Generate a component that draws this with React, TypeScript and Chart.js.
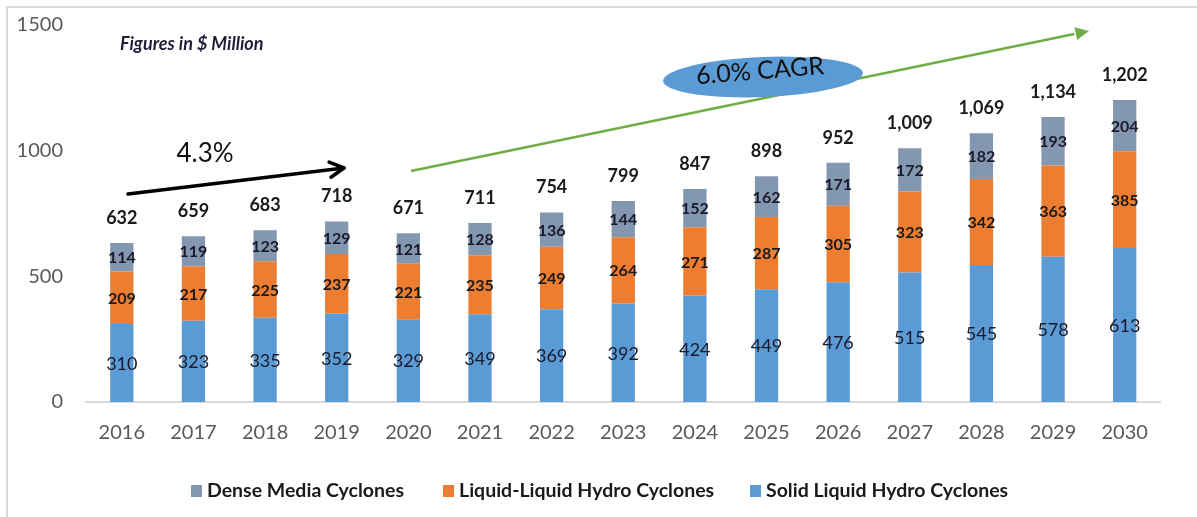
import React, { useEffect, useRef } from "react";
import { Chart, registerables } from "chart.js";

Chart.register(...registerables);

const years = ["2016", "2017", "2018", "2019", "2020", "2021", "2022", "2023", "2024", "2025", "2026", "2027", "2028", "2029", "2030"];
const solidLiquid = [310, 323, 335, 352, 329, 349, 369, 392, 424, 449, 476, 515, 545, 578, 613];
const liquidLiquid = [209, 217, 225, 237, 221, 235, 249, 264, 271, 287, 305, 323, 342, 363, 385];
const denseMedia = [114, 119, 123, 129, 121, 128, 136, 144, 152, 162, 171, 172, 182, 193, 204];
const totals = ["632", "659", "683", "718", "671", "711", "754", "799", "847", "898", "952", "1,009", "1,069", "1,134", "1,202"];
const yTicks = [0, 500, 1000, 1500];

const BLUE = "#5B9BD5";
const ORANGE = "#ED7D31";
const GRAY = "#8497B0";
const GREEN = "#70AD47";
const FONT = "Lato, 'Liberation Sans', sans-serif";

const overlayPlugin = {
  id: "overlay",
  beforeDraw(chart: any) {
    const ctx = chart.ctx;
    ctx.save();
    ctx.fillStyle = "#ffffff";
    ctx.fillRect(0, 0, chart.width, chart.height);
    ctx.strokeStyle = "#d9d9d9";
    ctx.lineWidth = 2;
    ctx.beginPath();
    ctx.moveTo(7, chart.height);
    ctx.lineTo(7, 7);
    ctx.lineTo(chart.width, 7);
    ctx.stroke();
    ctx.restore();
  },
  afterDatasetsDraw(chart: any) {
    const ctx = chart.ctx;
    ctx.save();
    // segment labels
    const styles = [
      { font: `18px ${FONT}`, color: "#1a1a2a" },
      { font: `bold 16px ${FONT}`, color: "#1a1a1a" },
      { font: `bold 16px ${FONT}`, color: "#1a1a2a" },
    ];
    chart.data.datasets.forEach((ds: any, di: number) => {
      const meta = chart.getDatasetMeta(di);
      meta.data.forEach((bar: any, i: number) => {
        const cy = (bar.y + bar.base) / 2;
        ctx.font = styles[di].font;
        ctx.fillStyle = styles[di].color;
        ctx.textAlign = "center";
        ctx.textBaseline = "middle";
        ctx.fillText(String(ds.data[i]), bar.x, cy + 1);
      });
    });
    // totals
    const topMeta = chart.getDatasetMeta(2);
    topMeta.data.forEach((bar: any, i: number) => {
      ctx.font = `bold 18px ${FONT}`;
      ctx.fillStyle = "#1a1a1a";
      ctx.textAlign = "center";
      ctx.textBaseline = "middle";
      ctx.fillText(totals[i], bar.x, bar.y - 25);
    });

    // Figures in $ Million
    ctx.font = `italic bold 18px ${FONT}`;
    ctx.fillStyle = "#1f1f3a";
    ctx.textAlign = "left";
    ctx.textBaseline = "middle";
    ctx.fillText("Figures in $ Million", 120, 44);

    // 4.3%
    ctx.font = `26px ${FONT}`;
    ctx.fillStyle = "#111111";
    ctx.textAlign = "center";
    ctx.fillText("4.3%", 205, 154);

    // black arrow
    const bx1 = 128, by1 = 194, bx2 = 344, by2 = 168;
    ctx.strokeStyle = "#000000";
    ctx.lineWidth = 3.5;
    ctx.lineCap = "round";
    ctx.lineJoin = "round";
    ctx.beginPath();
    ctx.moveTo(bx1, by1);
    ctx.lineTo(bx2, by2);
    ctx.stroke();
    const ang = Math.atan2(by2 - by1, bx2 - bx1);
    const hl = 16;
    ctx.beginPath();
    ctx.moveTo(bx2 - hl * Math.cos(ang - 0.5), by2 - hl * Math.sin(ang - 0.5));
    ctx.lineTo(bx2, by2);
    ctx.lineTo(bx2 - hl * Math.cos(ang + 0.5), by2 - hl * Math.sin(ang + 0.5));
    ctx.stroke();

    // green arrow
    const gx1 = 411, gy1 = 171, gx2 = 1089, gy2 = 31;
    const gang = Math.atan2(gy2 - gy1, gx2 - gx1);
    const ghl = 15;
    ctx.strokeStyle = GREEN;
    ctx.fillStyle = GREEN;
    ctx.lineWidth = 2.5;
    ctx.lineCap = "butt";
    ctx.beginPath();
    ctx.moveTo(gx1, gy1);
    ctx.lineTo(gx2 - ghl * Math.cos(gang), gy2 - ghl * Math.sin(gang));
    ctx.stroke();
    ctx.beginPath();
    ctx.moveTo(gx2, gy2);
    ctx.lineTo(gx2 - ghl * Math.cos(gang - 0.45), gy2 - ghl * Math.sin(gang - 0.45));
    ctx.lineTo(gx2 - ghl * Math.cos(gang + 0.45), gy2 - ghl * Math.sin(gang + 0.45));
    ctx.closePath();
    ctx.fill();

    // ellipse
    ctx.fillStyle = BLUE;
    ctx.beginPath();
    ctx.ellipse(763, 77, 100, 20, -0.04, 0, Math.PI * 2);
    ctx.fill();
    ctx.save();
    ctx.translate(760, 71);
    ctx.rotate(-0.08);
    ctx.font = `25px ${FONT}`;
    ctx.fillStyle = "#111111";
    ctx.textAlign = "center";
    ctx.textBaseline = "middle";
    ctx.fillText("6.0% CAGR", 0, 0);
    ctx.restore();

    // legend
    const items = [
      { label: "Dense Media Cyclones", color: GRAY, x: 191 },
      { label: "Liquid-Liquid Hydro Cyclones", color: ORANGE, x: 443 },
      { label: "Solid Liquid Hydro Cyclones", color: BLUE, x: 750 },
    ];
    items.forEach((it) => {
      ctx.fillStyle = it.color;
      ctx.fillRect(it.x, 485, 11, 12);
      ctx.font = `bold 19.5px ${FONT}`;
      ctx.fillStyle = "#1a1a1a";
      ctx.textAlign = "left";
      ctx.textBaseline = "middle";
      ctx.fillText(it.label, it.x + 16, 491);
    });
    ctx.restore();
  },
};

export default function App() {
  const ref = useRef<HTMLCanvasElement | null>(null);
  useEffect(() => {
    if (!ref.current) return;
    const chart = new Chart(ref.current, {
      type: "bar",
      data: {
        labels: years,
        datasets: [
          { label: "Solid Liquid Hydro Cyclones", data: solidLiquid, backgroundColor: BLUE },
          { label: "Liquid-Liquid Hydro Cyclones", data: liquidLiquid, backgroundColor: ORANGE },
          { label: "Dense Media Cyclones", data: denseMedia, backgroundColor: GRAY },
        ],
      },
      options: {
        animation: false,
        responsive: false,
        maintainAspectRatio: false,
        layout: { padding: { left: 0, right: 36.5, top: 25, bottom: 65 } },
        datasets: { bar: { categoryPercentage: 1, barPercentage: 0.325 } },
        plugins: {
          legend: { display: false },
          tooltip: { enabled: false },
          title: { display: false },
        },
        scales: {
          x: {
            stacked: true,
            grid: { display: false, drawTicks: false },
            border: { display: true, color: "#d9d9d9", width: 2 },
            ticks: { color: "#595959", font: { family: FONT, size: 20 }, padding: 19 },
            afterFit: (s: any) => { s.height = 50; s.paddingLeft = 0; s.paddingRight = 0; },
          },
          y: {
            stacked: true,
            min: 0,
            max: 1500,
            afterBuildTicks: (s: any) => { s.ticks = yTicks.map((v) => ({ value: v })); },
            grid: { display: false, drawTicks: false },
            border: { display: false },
            ticks: {
              color: "#595959",
              font: { family: FONT, size: 20 },
              padding: 23,
              callback: (v: any) => String(v),
            },
            afterFit: (s: any) => { s.width = 86; s.paddingTop = 0; s.paddingBottom = 0; },
          },
        },
      },
      plugins: [overlayPlugin],
    });
    return () => chart.destroy();
  }, []);
  return (
    <div style={{ position: "fixed", left: 0, top: 0, width: 1197, height: 517, background: "#fff" }}>
      <canvas ref={ref} width={1197} height={517} style={{ width: 1197, height: 517, display: "block" }} />
    </div>
  );
}
